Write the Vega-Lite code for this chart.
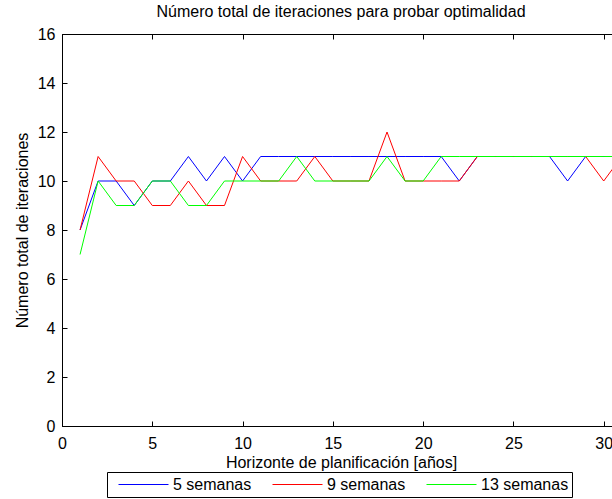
{
  "$schema": "https://vega.github.io/schema/vega-lite/v6.json",
  "autosize": "none",
  "padding": {"left": 62, "top": 34, "right": 0, "bottom": 73},
  "width": 632,
  "height": 392,
  "title": {
    "text": "Número total de iteraciones para probar optimalidad",
    "font": "Liberation Sans",
    "fontSize": 16,
    "fontWeight": "normal",
    "color": "black",
    "anchor": "middle",
    "dx": -37,
    "offset": 6
  },
  "config": {
    "view": {"stroke": "black", "strokeWidth": 1},
    "font": "Liberation Sans",
    "axis": {
      "domainColor": "black",
      "labelColor": "black",
      "titleColor": "black",
      "labelFont": "Liberation Sans",
      "titleFont": "Liberation Sans",
      "labelFontSize": 16,
      "titleFontSize": 16,
      "titleFontWeight": "normal",
      "ticks": false,
      "tickSize": 0,
      "grid": true,
      "gridColor": "black",
      "gridOpacity": 1,
      "gridWidth": 1
    }
  },
  "data": {
    "values": [
      {"h": 1, "it": 8, "s": "5 semanas"},
      {"h": 2, "it": 10, "s": "5 semanas"},
      {"h": 3, "it": 10, "s": "5 semanas"},
      {"h": 4, "it": 9, "s": "5 semanas"},
      {"h": 5, "it": 10, "s": "5 semanas"},
      {"h": 6, "it": 10, "s": "5 semanas"},
      {"h": 7, "it": 11, "s": "5 semanas"},
      {"h": 8, "it": 10, "s": "5 semanas"},
      {"h": 9, "it": 11, "s": "5 semanas"},
      {"h": 10, "it": 10, "s": "5 semanas"},
      {"h": 11, "it": 11, "s": "5 semanas"},
      {"h": 12, "it": 11, "s": "5 semanas"},
      {"h": 13, "it": 11, "s": "5 semanas"},
      {"h": 14, "it": 11, "s": "5 semanas"},
      {"h": 15, "it": 11, "s": "5 semanas"},
      {"h": 16, "it": 11, "s": "5 semanas"},
      {"h": 17, "it": 11, "s": "5 semanas"},
      {"h": 18, "it": 11, "s": "5 semanas"},
      {"h": 19, "it": 11, "s": "5 semanas"},
      {"h": 20, "it": 11, "s": "5 semanas"},
      {"h": 21, "it": 11, "s": "5 semanas"},
      {"h": 22, "it": 10, "s": "5 semanas"},
      {"h": 23, "it": 11, "s": "5 semanas"},
      {"h": 24, "it": 11, "s": "5 semanas"},
      {"h": 25, "it": 11, "s": "5 semanas"},
      {"h": 26, "it": 11, "s": "5 semanas"},
      {"h": 27, "it": 11, "s": "5 semanas"},
      {"h": 28, "it": 10, "s": "5 semanas"},
      {"h": 29, "it": 11, "s": "5 semanas"},
      {"h": 30, "it": 11, "s": "5 semanas"},
      {"h": 31, "it": 11, "s": "5 semanas"},
      {"h": 1, "it": 8, "s": "9 semanas"},
      {"h": 2, "it": 11, "s": "9 semanas"},
      {"h": 3, "it": 10, "s": "9 semanas"},
      {"h": 4, "it": 10, "s": "9 semanas"},
      {"h": 5, "it": 9, "s": "9 semanas"},
      {"h": 6, "it": 9, "s": "9 semanas"},
      {"h": 7, "it": 10, "s": "9 semanas"},
      {"h": 8, "it": 9, "s": "9 semanas"},
      {"h": 9, "it": 9, "s": "9 semanas"},
      {"h": 10, "it": 11, "s": "9 semanas"},
      {"h": 11, "it": 10, "s": "9 semanas"},
      {"h": 12, "it": 10, "s": "9 semanas"},
      {"h": 13, "it": 10, "s": "9 semanas"},
      {"h": 14, "it": 11, "s": "9 semanas"},
      {"h": 15, "it": 10, "s": "9 semanas"},
      {"h": 16, "it": 10, "s": "9 semanas"},
      {"h": 17, "it": 10, "s": "9 semanas"},
      {"h": 18, "it": 12, "s": "9 semanas"},
      {"h": 19, "it": 10, "s": "9 semanas"},
      {"h": 20, "it": 10, "s": "9 semanas"},
      {"h": 21, "it": 10, "s": "9 semanas"},
      {"h": 22, "it": 10, "s": "9 semanas"},
      {"h": 23, "it": 11, "s": "9 semanas"},
      {"h": 24, "it": 11, "s": "9 semanas"},
      {"h": 25, "it": 11, "s": "9 semanas"},
      {"h": 26, "it": 11, "s": "9 semanas"},
      {"h": 27, "it": 11, "s": "9 semanas"},
      {"h": 28, "it": 11, "s": "9 semanas"},
      {"h": 29, "it": 11, "s": "9 semanas"},
      {"h": 30, "it": 10, "s": "9 semanas"},
      {"h": 31, "it": 11, "s": "9 semanas"},
      {"h": 1, "it": 7, "s": "13 semanas"},
      {"h": 2, "it": 10, "s": "13 semanas"},
      {"h": 3, "it": 9, "s": "13 semanas"},
      {"h": 4, "it": 9, "s": "13 semanas"},
      {"h": 5, "it": 10, "s": "13 semanas"},
      {"h": 6, "it": 10, "s": "13 semanas"},
      {"h": 7, "it": 9, "s": "13 semanas"},
      {"h": 8, "it": 9, "s": "13 semanas"},
      {"h": 9, "it": 10, "s": "13 semanas"},
      {"h": 10, "it": 10, "s": "13 semanas"},
      {"h": 11, "it": 10, "s": "13 semanas"},
      {"h": 12, "it": 10, "s": "13 semanas"},
      {"h": 13, "it": 11, "s": "13 semanas"},
      {"h": 14, "it": 10, "s": "13 semanas"},
      {"h": 15, "it": 10, "s": "13 semanas"},
      {"h": 16, "it": 10, "s": "13 semanas"},
      {"h": 17, "it": 10, "s": "13 semanas"},
      {"h": 18, "it": 11, "s": "13 semanas"},
      {"h": 19, "it": 10, "s": "13 semanas"},
      {"h": 20, "it": 10, "s": "13 semanas"},
      {"h": 21, "it": 11, "s": "13 semanas"},
      {"h": 22, "it": 11, "s": "13 semanas"},
      {"h": 23, "it": 11, "s": "13 semanas"},
      {"h": 24, "it": 11, "s": "13 semanas"},
      {"h": 25, "it": 11, "s": "13 semanas"},
      {"h": 26, "it": 11, "s": "13 semanas"},
      {"h": 27, "it": 11, "s": "13 semanas"},
      {"h": 28, "it": 11, "s": "13 semanas"},
      {"h": 29, "it": 11, "s": "13 semanas"},
      {"h": 30, "it": 11, "s": "13 semanas"},
      {"h": 31, "it": 11, "s": "13 semanas"}
    ]
  },
  "mark": {"type": "line", "strokeWidth": 1, "clip": true},
  "encoding": {
    "x": {
      "field": "h",
      "type": "quantitative",
      "scale": {"domain": [0, 35], "nice": false, "zero": false},
      "axis": {
        "orient": "bottom",
        "title": "Horizonte de planificación [años]",
        "titleX": 279,
        "titleY": 41,
        "titleBaseline": "alphabetic",
        "values": [0, 5, 10, 15, 20, 25, 30, 35],
        "labelPadding": 9,
        "labelFlush": false,
        "gridDash": [5, 382, 5, 2000]
      }
    },
    "y": {
      "field": "it",
      "type": "quantitative",
      "scale": {"domain": [0, 16], "nice": false},
      "axis": {
        "title": "Número total de iteraciones",
        "titleX": -35,
        "titleBaseline": "alphabetic",
        "values": [0, 2, 4, 6, 8, 10, 12, 14, 16],
        "labelPadding": 7,
        "labelFlush": false,
        "gridDash": [5, 2000]
      }
    },
    "color": {
      "field": "s",
      "type": "nominal",
      "sort": ["5 semanas", "9 semanas", "13 semanas"],
      "scale": {
        "domain": ["5 semanas", "9 semanas", "13 semanas"],
        "range": ["#0000ff", "#ff0000", "#00ff00"]
      },
      "legend": {
        "title": null,
        "orient": "none",
        "direction": "horizontal",
        "legendX": 45,
        "legendY": 438,
        "columns": 3,
        "symbolType": "stroke",
        "symbolSize": 2500,
        "symbolStrokeWidth": 1,
        "symbolOffset": 8,
        "clipHeight": 19,
        "labelFontSize": 16,
        "labelFont": "Liberation Sans",
        "labelColor": "black",
        "labelOffset": 4,
        "columnPadding": 12,
        "strokeColor": "black",
        "padding": 3,
        "fillColor": "white"
      }
    }
  }
}
